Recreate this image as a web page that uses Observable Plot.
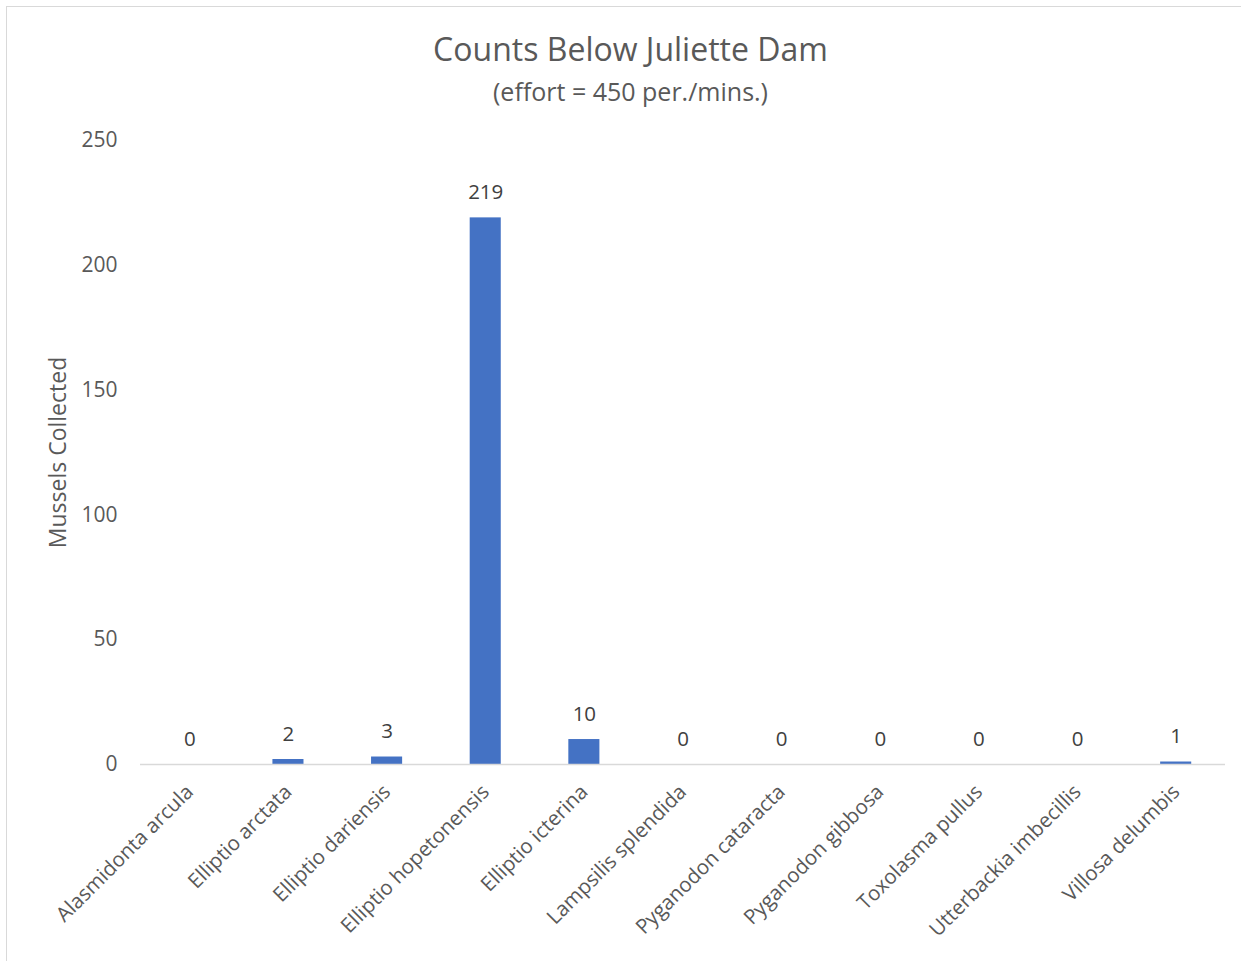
<!DOCTYPE html>
<html>
<head>
<meta charset="utf-8">
<script src="https://cdn.jsdelivr.net/npm/d3@7"></script>
<script src="https://cdn.jsdelivr.net/npm/@observablehq/plot@0.6"></script>
<style>
  html, body { margin: 0; padding: 0; background: #fff; }
  body { width: 1241px; height: 961px; position: relative; overflow: hidden; font-family: "Open Sans", sans-serif; }
  #frame { position: absolute; left: 6px; top: 6px; width: 1240px; height: 970px; border: 1px solid #d9d9d9; box-sizing: border-box; }
  #title { position: absolute; left: 0; width: 1261px; top: 27px; text-align: center; font-size: 32px; line-height: 44px; color: #595959; }
  #subtitle { position: absolute; left: 0; width: 1261px; top: 73px; text-align: center; font-size: 25px; line-height: 36px; color: #595959; }
  #chart { position: absolute; left: 0; top: 120px; }
</style>
</head>
<body>
<div id="frame"></div>
<div id="title">Counts Below Juliette Dam</div>
<div id="subtitle">(effort = 450 per./mins.)</div>
<div id="chart"></div>
<script>
const species = [
  "Alasmidonta arcula", "Elliptio arctata", "Elliptio dariensis", "Elliptio hopetonensis",
  "Elliptio icterina", "Lampsilis splendida", "Pyganodon cataracta", "Pyganodon gibbosa",
  "Toxolasma pullus", "Utterbackia imbecillis", "Villosa delumbis"
];
const counts = [0, 2, 3, 219, 10, 0, 0, 0, 0, 0, 1];
const yTicks = [0, 50, 100, 150, 200, 250];
const yDomain = [0, 250];
const yLabel = "Mussels Collected";

const data = species.map((s, i) => ({species: s, count: counts[i]}));

const chart = Plot.plot({
  width: 1241,
  height: 840,
  marginLeft: 140,
  marginRight: 16,
  marginTop: 20,
  marginBottom: 196,
  style: {fontFamily: "Open Sans, sans-serif", color: "#595959", background: "transparent"},
  x: {domain: species, paddingInner: 0.685, paddingOuter: 0.3425, round: false, label: null},
  y: {domain: yDomain, label: null},
  marks: [
    Plot.barY(data, {x: "species", y: "count", fill: "#4472C4"}),
    Plot.ruleY([0], {stroke: "#d9d9d9", strokeWidth: 1.5}),
    Plot.axisY({ticks: yTicks, tickSize: 0, tickPadding: 23, fontSize: 21, label: null, fill: "#595959"}),
    Plot.text([yLabel], {frameAnchor: "left", y: () => (yDomain[0] + yDomain[1]) / 2, textAnchor: "middle", rotate: -90, dx: -82, fontSize: 23, fill: "#595959"}),
    Plot.axisX({tickSize: 0, tickPadding: 24, tickRotate: -45, fontSize: 20.5, label: null, fill: "#595959"}),
    Plot.text(data, {x: "species", y: "count", text: d => String(d.count), lineAnchor: "bottom", dy: -19, fontSize: 20.5, fill: "#404040"})
  ]
});
document.getElementById("chart").appendChild(chart);
</script>
</body>
</html>
